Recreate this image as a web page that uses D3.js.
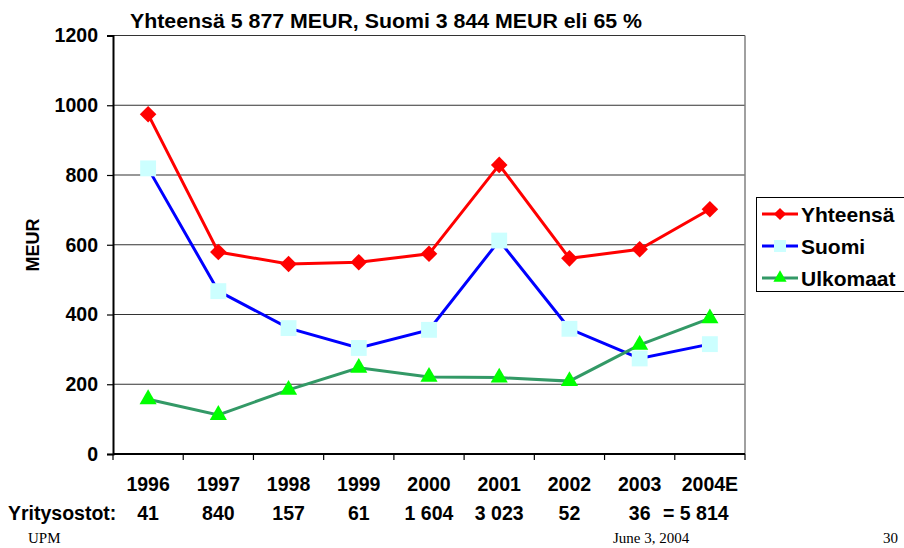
<!DOCTYPE html>
<html>
<head>
<meta charset="utf-8">
<script src="https://cdn.jsdelivr.net/npm/d3@7"></script>
<style>
  html, body { margin: 0; padding: 0; background: #fff; }
  svg { display: block; }
</style>
</head>
<body>
<svg id="chart" width="904" height="548" font-family="'Liberation Sans', Arial, sans-serif"></svg>
<script>
// Acquisitions per year, MEUR
const years = ["1996", "1997", "1998", "1999", "2000", "2001", "2002", "2003", "2004E"];
const yhteensa = [974, 579, 545, 550, 574, 829, 561, 587, 702];
const suomi = [819, 467, 361, 304, 356, 612, 359, 274, 315];
const ulkomaat = [157, 112, 184, 247, 221, 219, 209, 313, 389];
const yritysostot = ["41", "840", "157", "61", "1 604", "3 023", "52", "36", ""];
const yTicks = [0, 200, 400, 600, 800, 1000, 1200];

const SANS = "'Liberation Sans', Arial, sans-serif";
const SERIF = "'Liberation Serif', 'Times New Roman', serif";

const series = [
  { name: "Yhteensä", values: yhteensa, line: "#ff0000", fill: "#ff0000", shape: d3.symbolDiamond2, size: 175, legendSize: 95 },
  { name: "Suomi", values: suomi, line: "#0000ff", fill: "#ccffff", shape: d3.symbolSquare2, size: 320, legendSize: 185 },
  { name: "Ulkomaat", values: ulkomaat, line: "#339966", fill: "#00ff00", shape: d3.symbolTriangle2, size: 210, legendSize: 125 }
];

const svg = d3.select("#chart");
const plot = { left: 113, right: 745, top: 35.5, bottom: 454 };

const x = d3.scaleBand().domain(years).range([plot.left, plot.right]);
const y = d3.scaleLinear().domain([0, 1200]).range([plot.bottom, plot.top]);

// Horizontal gridlines
svg.append("g")
  .selectAll("line")
  .data(yTicks.slice(1))
  .join("line")
  .attr("x1", plot.left).attr("x2", plot.right)
  .attr("y1", d => y(d)).attr("y2", d => y(d))
  .attr("stroke", "#333").attr("stroke-width", 1.2);

// Right frame edge
svg.append("line")
  .attr("x1", plot.right).attr("x2", plot.right)
  .attr("y1", plot.top).attr("y2", plot.bottom)
  .attr("stroke", "#808080").attr("stroke-width", 1.5);

// Y axis
const yAxis = svg.append("g")
  .attr("transform", `translate(${plot.left},0)`)
  .call(d3.axisLeft(y).tickValues(yTicks).tickFormat(d3.format("d")).tickSize(6).tickPadding(9));
yAxis.attr("font-family", SANS).attr("font-size", 19.5);
yAxis.select(".domain").attr("stroke", "#000").attr("stroke-width", 2);
yAxis.selectAll(".tick line").attr("stroke", "#000").attr("stroke-width", 1.2);
yAxis.selectAll(".tick text")
  .attr("font-weight", "bold").attr("fill", "#000");

// X axis: ticks at category boundaries
const xAxis = svg.append("g")
  .attr("transform", `translate(0,${plot.bottom})`);
xAxis.append("line")
  .attr("x1", plot.left).attr("x2", plot.right)
  .attr("stroke", "#000").attr("stroke-width", 2);
const bounds = years.map(d => x(d)).concat([x(years[years.length - 1]) + x.bandwidth()]);
xAxis.selectAll("line.tick")
  .data(bounds)
  .join("line")
  .attr("class", "tick")
  .attr("x1", d => d).attr("x2", d => d)
  .attr("y1", 0).attr("y2", 6)
  .attr("stroke", "#000").attr("stroke-width", 1.2);

// Year labels
svg.append("g")
  .selectAll("text")
  .data(years)
  .join("text")
  .attr("x", d => x(d) + x.bandwidth() / 2)
  .attr("y", 491)
  .attr("text-anchor", "middle")
  .attr("font-size", 19.5).attr("font-weight", "bold")
  .text(d => d);

// Acquisition counts row
svg.append("text")
  .attr("x", 8).attr("y", 520)
  .attr("font-size", 19.5).attr("font-weight", "bold")
  .text("Yritysostot:");
svg.append("g")
  .selectAll("text")
  .data(years.map((d, i) => ({ year: d, label: yritysostot[i] })).filter(d => d.label))
  .join("text")
  .attr("x", d => x(d.year) + x.bandwidth() / 2)
  .attr("y", 520)
  .attr("text-anchor", "middle")
  .attr("font-size", 19.5).attr("font-weight", "bold")
  .text(d => d.label);
svg.append("text")
  .attr("x", 663).attr("y", 520)
  .attr("font-size", 19.5).attr("font-weight", "bold")
  .text("= 5 814");

// Y axis title
svg.append("text")
  .attr("transform", "translate(39,245) rotate(-90)")
  .attr("text-anchor", "middle")
  .attr("font-size", 18).attr("font-weight", "bold")
  .text("MEUR");

// Chart title
svg.append("text")
  .attr("x", 130).attr("y", 28)
  .attr("font-size", 20).attr("font-weight", "bold")
  .attr("textLength", 512).attr("lengthAdjust", "spacingAndGlyphs")
  .text("Yhteensä 5 877 MEUR, Suomi 3 844 MEUR eli 65 %");

// Lines and markers
const line = d3.line()
  .x((d, i) => x(years[i]) + x.bandwidth() / 2)
  .y(d => y(d));

series.forEach(s => {
  svg.append("path")
    .datum(s.values)
    .attr("d", line)
    .attr("fill", "none")
    .attr("stroke", s.line)
    .attr("stroke-width", 3);
});
series.forEach(s => {
  svg.append("g")
    .selectAll("path")
    .data(s.values)
    .join("path")
    .attr("transform", (d, i) => `translate(${x(years[i]) + x.bandwidth() / 2},${y(d)})`)
    .attr("d", d3.symbol().type(s.shape).size(s.size))
    .attr("fill", s.fill);
});

// Legend
const legend = svg.append("g").attr("transform", "translate(756,197)");
legend.append("rect")
  .attr("x", 0.5).attr("y", 0.5)
  .attr("width", 155).attr("height", 94)
  .attr("fill", "#fff").attr("stroke", "#000").attr("stroke-width", 1);
series.forEach((s, i) => {
  const g = legend.append("g").attr("transform", `translate(0,${17 + i * 32})`);
  g.append("line")
    .attr("x1", 6).attr("x2", 42)
    .attr("stroke", s.line).attr("stroke-width", 3);
  g.append("path")
    .attr("transform", "translate(24,0)")
    .attr("d", d3.symbol().type(s.shape).size(s.legendSize))
    .attr("fill", s.fill);
  g.append("text")
    .attr("x", 45).attr("y", 7.5)
    .attr("font-size", 21).attr("font-weight", "bold")
    .text(s.name);
});

// Slide footer
const footer = svg.append("g")
  .attr("font-family", SERIF)
  .attr("font-size", 15);
footer.append("text").attr("x", 28).attr("y", 543).text("UPM");
footer.append("text").attr("x", 613).attr("y", 543).text("June 3, 2004");
footer.append("text").attr("x", 883).attr("y", 543).text("30");
</script>
</body>
</html>
